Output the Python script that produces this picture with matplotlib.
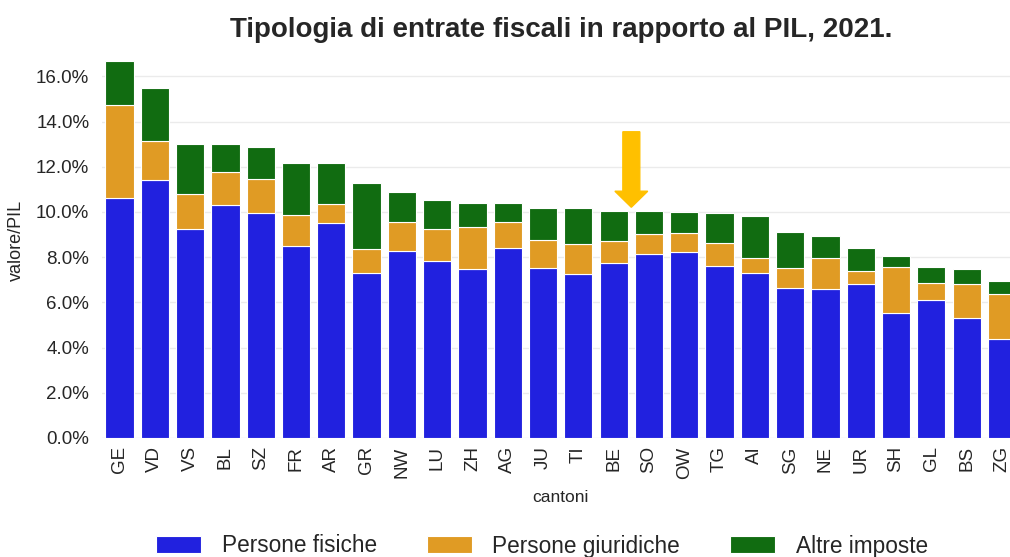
import numpy as np
import matplotlib
matplotlib.use("Agg")
import matplotlib.pyplot as plt
from matplotlib.ticker import FuncFormatter

# values in % of PIL
cantoni = ["GE", "VD", "VS", "BL", "SZ", "FR", "AR", "GR", "NW", "LU", "ZH", "AG", "JU",
           "TI", "BE", "SO", "OW", "TG", "AI", "SG", "NE", "UR", "SH", "GL", "BS", "ZG"]
persone_fisiche = [10.63, 11.40, 9.25, 10.31, 9.94, 8.48, 9.50, 7.29, 8.29, 7.85, 7.49, 8.42, 7.52,
                   7.24, 7.73, 8.13, 8.22, 7.63, 7.32, 6.62, 6.59, 6.83, 5.55, 6.11, 5.30, 4.37]
persone_giuridiche = [4.09, 1.74, 1.55, 1.45, 1.51, 1.39, 0.84, 1.07, 1.25, 1.38, 1.86, 1.12, 1.24,
                      1.33, 0.99, 0.88, 0.84, 0.98, 0.64, 0.89, 1.37, 0.56, 2.02, 0.75, 1.50, 2.01]
altre_imposte = [1.96, 2.36, 2.20, 1.24, 1.43, 2.28, 1.81, 2.94, 1.34, 1.30, 1.03, 0.84, 1.42,
                 1.61, 1.34, 1.05, 0.95, 1.36, 1.85, 1.61, 0.99, 1.00, 0.50, 0.69, 0.66, 0.55]

# arrow marking the gap between BE and SO
arrow_x = 14.5
arrow_top = 13.55
arrow_tip = 10.21

plt.rcParams["font.family"] = ["Liberation Sans", "DejaVu Sans"]

W, H = 1010, 557
fig = plt.figure(figsize=(W / 100, H / 100), dpi=100)
left, right, bottom, top = 101.85, 1019.6, 438, 42.5
ax = fig.add_axes([left / W, 1 - bottom / H, (right - left) / W, (bottom - top) / H])

x = np.arange(len(cantoni))
pf = np.array(persone_fisiche)
pg = np.array(persone_giuridiche)
ai = np.array(altre_imposte)

kw = dict(width=0.8, edgecolor="white", linewidth=0.8, zorder=2)
ax.bar(x, pf, color="#2121df", label="Persone fisiche", **kw)
ax.bar(x, pg, bottom=pf, color="#e09b24", label="Persone giuridiche", **kw)
ax.bar(x, ai, bottom=pf + pg, color="#116c11", label="Altre imposte", **kw)

ax.arrow(arrow_x, arrow_top, 0, arrow_tip - arrow_top, width=0.48, head_width=0.93,
         head_length=0.71, length_includes_head=True, color="#ffc000", zorder=3)

ax.set_xlim(-0.5, len(cantoni) - 0.5)
ax.set_ylim(0, 17.5)
ax.set_yticks(np.arange(0, 17, 2))
ax.yaxis.set_major_formatter(FuncFormatter(lambda v, p: f"{v:.1f}%"))
ax.set_xticks(x)
ax.set_xticklabels(cantoni, rotation=90)
ax.tick_params(axis="both", length=0, labelsize=13.5, colors="#262626")
ax.tick_params(axis="y", pad=9)
ax.tick_params(axis="x", pad=6)
ax.grid(axis="y", color="#ebebeb", linewidth=1, zorder=0)
ax.set_axisbelow(True)
for s in ax.spines.values():
    s.set_visible(False)

ax.set_ylabel("valore/PIL", fontsize=13, color="#262626", labelpad=8)
ax.set_xlabel("cantoni", fontsize=12.5, color="#262626", labelpad=8)

fig.text((left + right) / 2 / W, 1 - 37 / H, "Tipologia di entrate fiscali in rapporto al PIL, 2021.",
         ha="center", va="baseline", fontsize=20, fontweight="bold", color="#262626")

fig.legend(loc="center", bbox_to_anchor=(542 / W, 1 - 546 / H), ncol=3, frameon=False,
           fontsize=16.3, handlelength=2.0, handleheight=0.8, handletextpad=0.9,
           columnspacing=2.2, labelcolor="#262626")

fig.savefig("out.png", dpi=100)
